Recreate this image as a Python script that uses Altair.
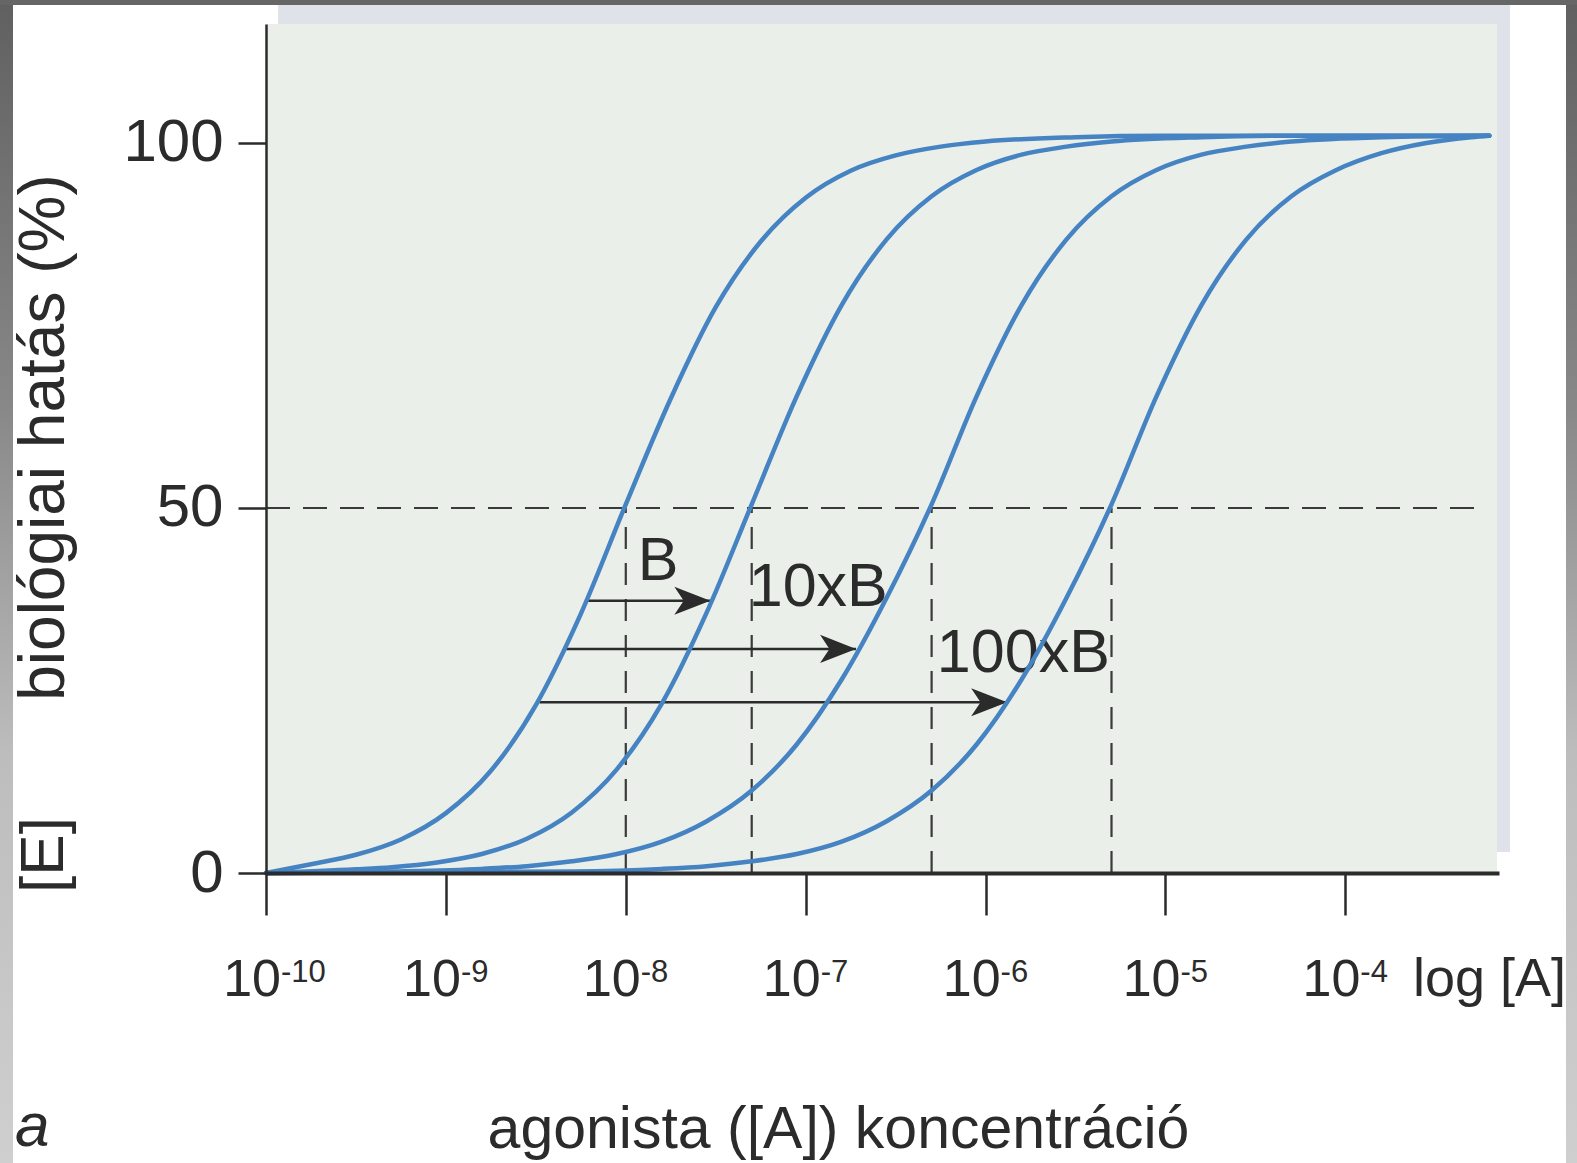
import altair as alt
import pandas as pd

# ---------------------------------------------------------------- data ----
# agonist concentration ticks, 10^e mol/l
TICK_EXP = [-10, -9, -8, -7, -6, -5, -4]
TICK_BASE = "10"
Y_TICKS = [0, 50, 100]

# dose-response curves: log10 [A] and biological effect [E] (%)
CURVE_NAMES = ["A", "A + B", "A + 10xB", "A + 100xB"]

LOG_A_1 = [-10.0, -9.75, -9.5, -9.25, -9.0, -8.75, -8.5, -8.25, -8.0, -7.75,
           -7.5, -7.25, -7.0, -6.75, -6.5, -6.25, -6.0, -5.5, -5.0, -3.2]
E_1 = [0.0, 1.2, 2.5, 4.6, 8.2, 14.0, 23.0, 35.5, 50.5, 65.0,
       77.5, 86.5, 92.5, 96.2, 98.3, 99.5, 100.2, 100.8, 101.0, 101.0]

LOG_A_2 = [-10.0, -9.5, -9.3, -9.05, -8.8, -8.55, -8.3, -8.05, -7.8, -7.55, -7.3,
           -7.05, -6.8, -6.55, -6.3, -6.05, -5.8, -5.55, -5.3, -4.8, -4.3, -3.2]
E_2 = [0.0, 0.5, 0.8, 1.45, 2.6, 4.7, 8.3, 14.2, 23.2, 35.7, 50.5,
       65.3, 77.8, 86.8, 92.7, 96.3, 98.4, 99.5, 100.2, 100.8, 101.0, 101.0]

LOG_A_3 = [-10.0, -9.3, -8.8, -8.55, -8.3, -8.05, -7.8, -7.55, -7.3, -7.05, -6.8, -6.55,
           -6.3, -6.05, -5.8, -5.55, -5.3, -5.05, -4.8, -4.55, -4.3, -3.8, -3.2]
E_3 = [0.0, 0.2, 0.56, 0.94, 1.6, 2.6, 4.3, 7.1, 11.3, 17.6, 26.5, 37.7,
       50.5, 65.3, 77.8, 86.8, 92.7, 96.3, 98.4, 99.5, 100.2, 100.8, 101.0]

LOG_A_4 = [-10.0, -8.3, -7.8, -7.55, -7.3, -7.05, -6.8, -6.55, -6.3, -6.05, -5.8,
           -5.55, -5.3, -5.05, -4.8, -4.55, -4.3, -4.05, -3.8, -3.55, -3.3, -3.2]
E_4 = [0.0, 0.2, 0.56, 0.94, 1.6, 2.6, 4.3, 7.1, 11.3, 17.6, 26.5,
       37.7, 50.5, 65.3, 77.8, 86.8, 92.7, 96.3, 98.6, 100.0, 100.8, 101.0]

# half-maximal effect guides
EC50_LOG = [-8.0, -7.3, -6.3, -5.3]
HALF_EFFECT = 50
HALF_LINE_START_LOG = -10.0
HALF_LINE_END_LOG = -3.26

# rightward shift arrows: effect level, start on curve A, tip on shifted curve
ARROW_E = [37.3, 30.7, 23.4]
ARROW_FROM_LOG = [-8.21, -8.34, -8.48]
ARROW_TO_LOG = [-7.53, -6.72, -5.88]

# antagonist concentration labels
SHIFT_TEXT = ["B", "10xB", "100xB"]
SHIFT_LOG = [-7.82, -6.93, -5.79]
SHIFT_E = [42.6, 39.1, 30.0]

# ------------------------------------------------------------- styling ----
FONT = "Liberation Sans Narrow, Liberation Sans, sans-serif"
INK = "#2b2b2b"
BLUE = "#4683c2"
PANEL = "#eaefea"
SHADOW = "#e0e2ea"

W, H = 1233, 849
Y_TITLE_X = -203

X_SCALE = alt.Scale(type="log", domain=[1e-10, 10 ** -3.146], nice=False)
Y_SCALE = alt.Scale(domain=[0, 116.3], nice=False, zero=False)

X_AXIS = alt.Axis(
    values=[10.0 ** e for e in TICK_EXP], labels=False, grid=False,
    tickSize=42, tickWidth=2.5, tickColor=INK,
    domainColor=INK, domainWidth=4,
    title="agonista ([A]) koncentráció", titleFont=FONT, titleFontSize=59,
    titleFontWeight="normal", titleColor=INK, titleX=572, titleY=274,
    titleAlign="center", titleBaseline="alphabetic", zindex=1,
)
Y_AXIS = alt.Axis(
    values=Y_TICKS, grid=False,
    tickSize=28, tickWidth=2.5, tickColor=INK,
    domainColor=INK, domainWidth=2.5,
    labelFont=FONT, labelFontSize=60, labelColor=INK, labelPadding=15,
    title="biológiai hatás (%)", titleFont=FONT, titleFontSize=64,
    titleFontWeight="normal", titleColor=INK, titleAngle=270,
    titleX=Y_TITLE_X, titleY=413, titleAlign="center", titleBaseline="alphabetic",
    zindex=1,
)


def xq(field="conc"):
    return alt.X(f"{field}:Q", scale=X_SCALE, axis=X_AXIS)


def yq(field="effect"):
    return alt.Y(f"{field}:Q", scale=Y_SCALE, axis=Y_AXIS)


# ------------------------------------------------------------- tables ----
curve_rows = []
for name, logs, effects in zip(CURVE_NAMES, [LOG_A_1, LOG_A_2, LOG_A_3, LOG_A_4],
                               [E_1, E_2, E_3, E_4]):
    for i, (lg, e) in enumerate(zip(logs, effects)):
        curve_rows.append({"curve": name, "idx": i, "conc": 10 ** lg, "effect": e})
curves_df = pd.DataFrame(curve_rows)

ec50_df = pd.DataFrame({"conc": [10 ** v for v in EC50_LOG],
                        "effect": [0] * len(EC50_LOG),
                        "effect_to": [HALF_EFFECT] * len(EC50_LOG)})
half_df = pd.DataFrame({"conc": [10 ** HALF_LINE_START_LOG],
                        "conc_to": [10 ** HALF_LINE_END_LOG],
                        "effect": [HALF_EFFECT]})
arrow_df = pd.DataFrame({"conc": [10 ** v for v in ARROW_FROM_LOG],
                         "conc_to": [10 ** v for v in ARROW_TO_LOG],
                         "tip": [10 ** v for v in ARROW_TO_LOG],
                         "effect": ARROW_E})
shift_df = pd.DataFrame({"conc": [10 ** v for v in SHIFT_LOG],
                         "effect": SHIFT_E, "text": SHIFT_TEXT})
tick_df = pd.DataFrame({"conc": [10.0 ** e for e in TICK_EXP],
                        "base": [TICK_BASE] * len(TICK_EXP),
                        "exp": [str(e) for e in TICK_EXP]})
one = pd.DataFrame({"k": [0]})

# ------------------------------------------------------------- layers ----
shadow = alt.Chart(one).mark_rect(color=SHADOW).encode(
    x=alt.value(12), x2=alt.value(W + 11), y=alt.value(-24), y2=alt.value(H - 21))
panel = alt.Chart(one).mark_rect(color=PANEL).encode(
    x=alt.value(0), x2=alt.value(W - 2), y=alt.value(0), y2=alt.value(H))

half_line = alt.Chart(half_df).mark_rule(
    color="#3a3a3a", strokeWidth=2.2, strokeDash=[24, 13]).encode(
    x=xq(), x2="conc_to:Q", y=yq())
ec50_lines = alt.Chart(ec50_df).mark_rule(
    color="#3a3a3a", strokeWidth=2.2, strokeDash=[22, 14]).encode(
    x=xq(), y=yq(), y2="effect_to:Q")

arrow_lines = alt.Chart(arrow_df).mark_rule(color=INK, strokeWidth=2.5).encode(
    x=xq(), x2="conc_to:Q", y=yq())
ARROW_HEAD = "M0,0 L-1,-0.39 L-0.74,0 L-1,0.39 Z"
arrow_heads = alt.Chart(arrow_df).mark_point(
    shape=ARROW_HEAD, size=5184, filled=True, color=INK, opacity=1, strokeWidth=0).encode(
    x=xq("tip"), y=yq())

shift_labels = alt.Chart(shift_df).mark_text(
    font=FONT, fontSize=61, color=INK, align="center", baseline="middle").encode(
    x=xq(), y=yq(), text="text:N")

curves = alt.Chart(curves_df).mark_line(
    interpolate="monotone", strokeWidth=4.5, color=BLUE, strokeCap="round").encode(
    x=xq(), y=yq(), detail="curve:N", order="idx:Q")

tick_base = alt.Chart(tick_df).mark_text(
    font=FONT, fontSize=52, color=INK, align="right", baseline="alphabetic", dx=15).encode(
    x=xq(), y=alt.value(972), text="base:N")
tick_exp = alt.Chart(tick_df).mark_text(
    font=FONT, fontSize=31, color=INK, align="left", baseline="alphabetic", dx=15).encode(
    x=xq(), y=alt.value(958), text="exp:N")

log_label = alt.Chart(one).mark_text(
    font=FONT, fontSize=54, color=INK, align="left", baseline="alphabetic").encode(
    x=alt.value(1147), y=alt.value(972), text=alt.value("log [A]"))
e_label = alt.Chart(one).mark_text(
    font=FONT, fontSize=62, color=INK, align="center", baseline="alphabetic",
    angle=270).encode(x=alt.value(Y_TITLE_X), y=alt.value(831), text=alt.value("[E]"))
panel_letter = alt.Chart(one).mark_text(
    font=FONT, fontSize=62, fontStyle="italic", color=INK, align="left",
    baseline="alphabetic").encode(x=alt.value(-251), y=alt.value(1122), text=alt.value("a"))

# grey frame round the page
FRAME = alt.LinearGradient(
    gradient="linear", x1=0, x2=0, y1=0, y2=1,
    stops=[alt.GradientStop(offset=0, color="#606060"),
           alt.GradientStop(offset=0.35, color="#888888"),
           alt.GradientStop(offset=0.65, color="#bdbdbd"),
           alt.GradientStop(offset=1, color="#cfcfcf")])
frame_left = alt.Chart(one).mark_rect(fill=FRAME).encode(
    x=alt.value(-266), x2=alt.value(-253), y=alt.value(-24), y2=alt.value(H + 290))
frame_right = alt.Chart(one).mark_rect(fill=FRAME).encode(
    x=alt.value(W + 67), x2=alt.value(W + 78), y=alt.value(-24), y2=alt.value(H + 290))
frame_top = alt.Chart(one).mark_rect(color="#666666").encode(
    x=alt.value(-266), x2=alt.value(W + 78), y=alt.value(-24), y2=alt.value(-19))

chart = alt.layer(
    shadow, panel, half_line, ec50_lines, arrow_lines, arrow_heads, shift_labels,
    curves, tick_base, tick_exp, log_label, e_label, panel_letter,
    frame_left, frame_right, frame_top,
).properties(
    width=W, height=H,
    autosize=alt.AutoSizeParams(type="none"),
    padding={"left": 266, "top": 24, "right": 78, "bottom": 290},
    background="white",
).configure_view(stroke=None)

chart.save("out.html", embed_options={"renderer": "svg", "actions": False})
